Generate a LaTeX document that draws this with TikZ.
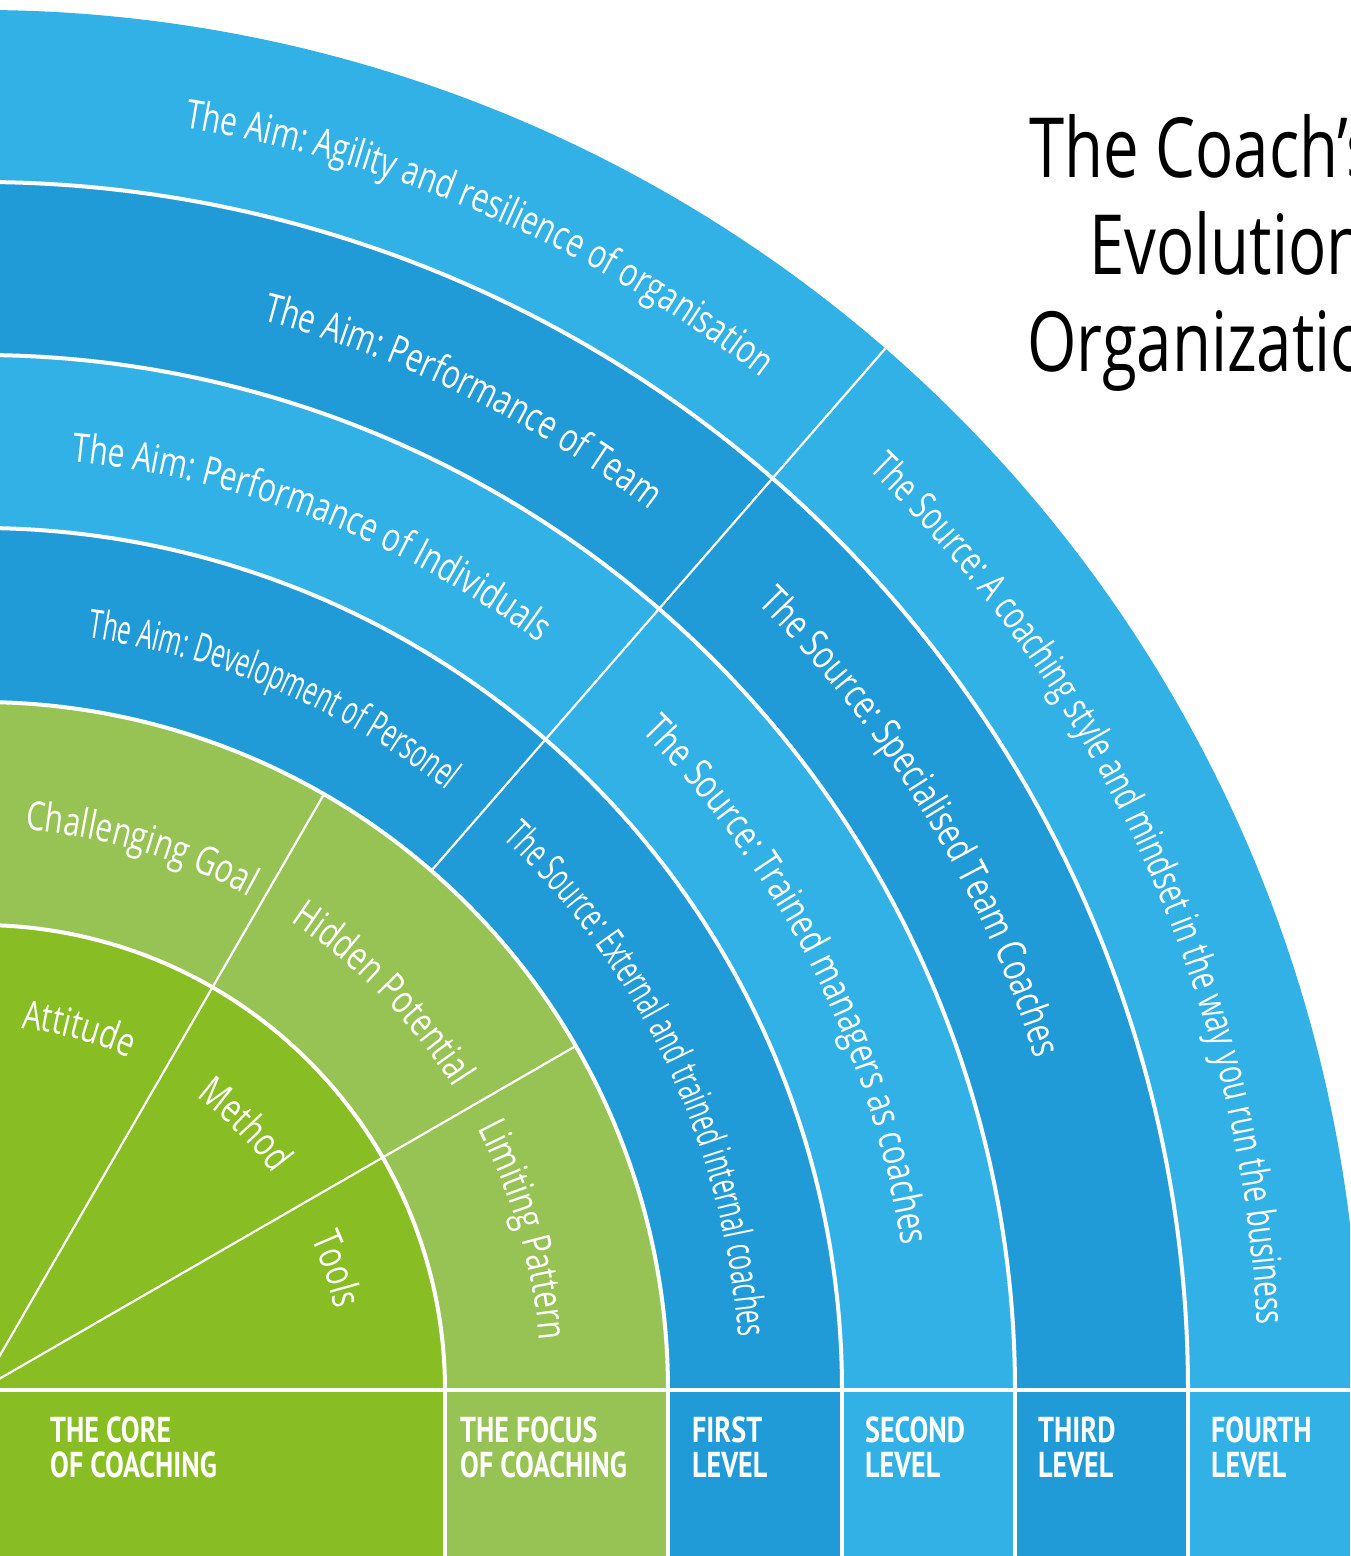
\documentclass[tikz,border=0pt]{standalone}
\usepackage{fontspec}
\usetikzlibrary{decorations.text}

% condensed faces for the ring captions and the title
\newfontfamily\ringfont[FakeStretch=0.75]{Open Sans}
\newfontfamily\ringfontsemi[FakeStretch=0.70]{Open Sans}
\newfontfamily\ringfontnarrow[FakeStretch=0.61]{Open Sans}
\newfontfamily\headfont[FakeStretch=0.765]{Open Sans}
\newfontfamily\bandfont[FakeStretch=0.78]{PT Sans}

\definecolor{bluelight}{HTML}{32B1E6}
\definecolor{bluedark}{HTML}{209BD7}
\definecolor{greencore}{HTML}{88BD23}
\definecolor{greenfocus}{HTML}{97C354}

\newcommand{\rfN}{\ringfont\fontsize{40}{48}\selectfont}
\newcommand{\rfS}{\ringfontsemi\fontsize{40}{48}\selectfont}
\newcommand{\rfC}{\ringfontnarrow\fontsize{40}{48}\selectfont}

% caption set along a clockwise arc: font, radius, centre angle, half span, text
\newcommand{\ringlabel}[5]{%
  \path[decorate, decoration={text along path, text align=center,
      text={|#1\color{white}|#5}}]
    ({#3+#4}:#2) arc[start angle={#3+#4}, end angle={#3-#4}, radius=#2];}

\tikzset{
  ringline/.style={white, line width=4pt},
  divider/.style={white, line width=2.2pt},
  bandline/.style={white, line width=3.5pt},
  bandtext/.style={anchor=north west, inner sep=0pt, align=left, text=white,
    font={\bandfont\bfseries\fontsize{36}{35}\selectfont}},
  titletext/.style={anchor=base west, inner sep=0pt, text=black,
    font={\headfont\fontsize{83}{95}\selectfont}},
}

\begin{document}
\begin{tikzpicture}[x=1pt, y=1pt]
\useasboundingbox (0,0) rectangle (1350,1556);
\clip (0,0) rectangle (1350,1556);
\fill[white] (0,0) rectangle (1350,1556);

\begin{scope}[shift={(-20,166)}]
  % rings, outermost first
  \fill[bluelight]  (0,0) -- (0:1380) arc[start angle=0, end angle=100, radius=1380] -- cycle;
  \fill[bluedark]   (0,0) -- (0:1208) arc[start angle=0, end angle=100, radius=1208] -- cycle;
  \fill[bluelight]  (0,0) -- (0:1035) arc[start angle=0, end angle=100, radius=1035] -- cycle;
  \fill[bluedark]   (0,0) -- (0:862)  arc[start angle=0, end angle=100, radius=862]  -- cycle;
  \fill[greenfocus] (0,0) -- (0:688)  arc[start angle=0, end angle=100, radius=688]  -- cycle;
  \fill[greencore]  (0,0) -- (0:465)  arc[start angle=0, end angle=100, radius=465]  -- cycle;

  % radial dividers
  \draw[divider] (0,0) -- (30:688);
  \draw[divider] (0,0) -- (60:688);
  \draw[divider] (49:688) -- (49:1380);

  % ring boundaries
  \foreach \r in {465,688,862,1035,1208}
    \draw[ringline] (0:\r) arc[start angle=0, end angle=100, radius=\r];

  % aims
  \ringlabel{\rfN}{1279}{66.6}{40}{The Aim: Agility and resilience of organisation}
  \ringlabel{\rfN}{1106}{64.0}{40}{The Aim: Performance of Team}
  \ringlabel{\rfN}{933}{68.8}{40}{The Aim: Performance of Individuals}
  \ringlabel{\rfC}{760}{67.0}{40}{The Aim: Development of Personel}

  % sources
  \ringlabel{\rfS}{1279}{24.5}{40}{The Source: A coaching style and mindset in the way you run the business}
  \ringlabel{\rfN}{1106}{31.4}{40}{The Source: Specialised Team Coaches}
  \ringlabel{\rfN}{933}{26.9}{40}{The Source: Trained managers as coaches}
  \ringlabel{\rfC}{760}{25.3}{40}{The Source: External and trained internal coaches}

  % focus of coaching
  \ringlabel{\rfN}{562}{73.4}{40}{Challenging Goal}
  \ringlabel{\rfN}{562}{44.5}{40}{Hidden Potential}
  \ringlabel{\rfN}{562}{16.4}{40}{Limiting Pattern}

  % core of coaching
  \ringlabel{\rfN}{364}{74.7}{40}{Attitude}
  \ringlabel{\rfN}{364}{45.0}{40}{Method}
  \ringlabel{\rfN}{364}{18.7}{40}{Tools}
\end{scope}

% level band
\fill[greencore]  (0,0)    rectangle (445,166);
\fill[greenfocus] (445,0)  rectangle (668,166);
\fill[bluedark]   (668,0)  rectangle (842,166);
\fill[bluelight]  (842,0)  rectangle (1015,166);
\fill[bluedark]   (1015,0) rectangle (1188,166);
\fill[bluelight]  (1188,0) rectangle (1350,166);
\draw[bandline] (0,166) -- (1350,166);
\foreach \x in {445,668,842,1015,1188}
  \draw[bandline] (\x,0) -- (\x,166);

\node[bandtext] (core)   at (50,139)   {THE CORE\\OF COACHING};
\node[bandtext] (focus)  at (460,139)  {THE FOCUS\\OF COACHING};
\node[bandtext] (first)  at (692,139)  {FIRST\\LEVEL};
\node[bandtext] (second) at (865,139)  {SECOND\\LEVEL};
\node[bandtext] (third)  at (1038,139) {THIRD\\LEVEL};
\node[bandtext] (fourth) at (1211,139) {FOURTH\\LEVEL};

% title, running off the right edge
\node[titletext] (title1) at (1029,1378) {The Coach’s};
\node[titletext] (title2) at (1089,1281) {Evolution};
\node[titletext] (title3) at (1027,1184) {Organization};
\end{tikzpicture}
\end{document}
